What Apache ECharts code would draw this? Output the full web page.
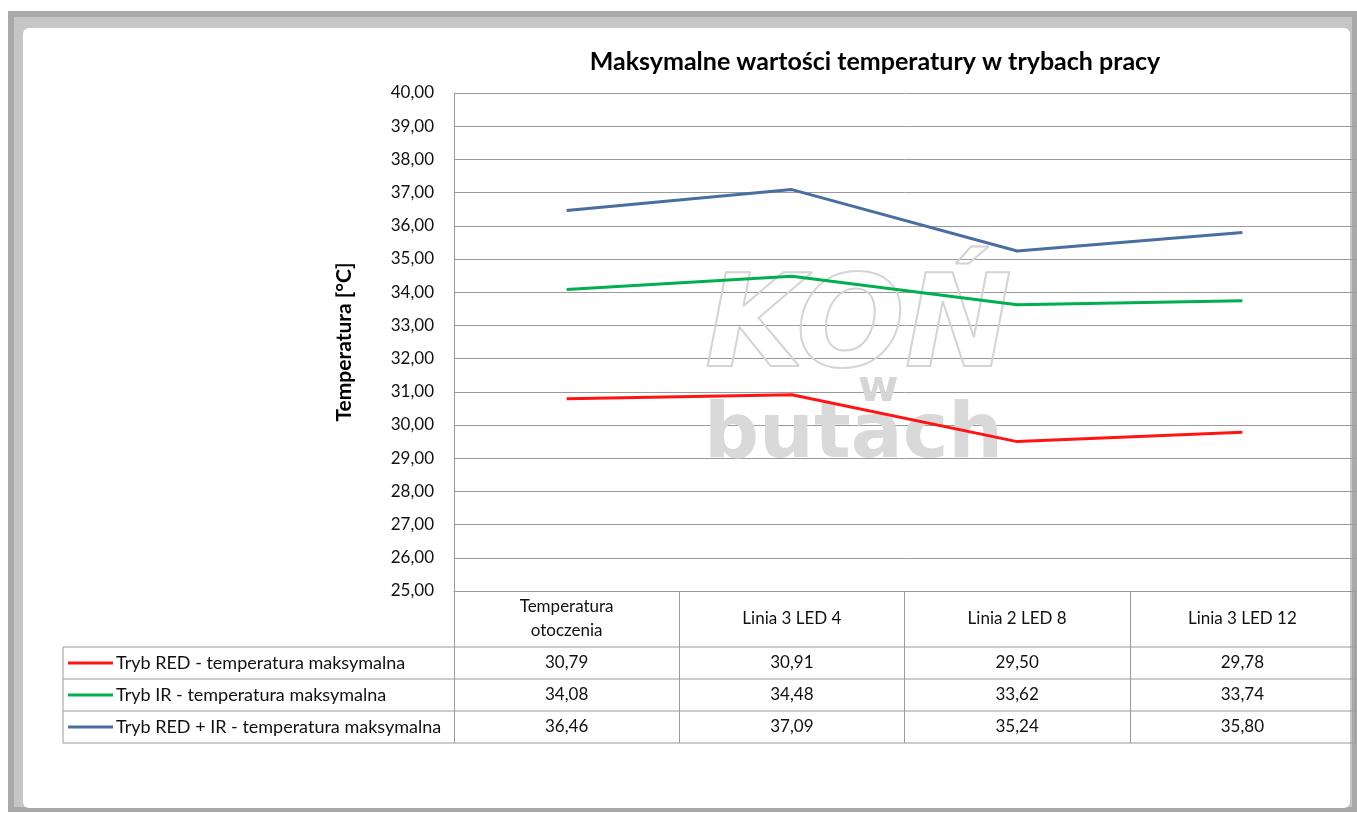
<!DOCTYPE html>
<html>
<head>
<meta charset="utf-8">
<script src="https://cdn.jsdelivr.net/npm/echarts@6/dist/echarts.min.js"></script>
<style>
  html, body { margin: 0; padding: 0; background: #ffffff; }
  #chart { width: 1357px; height: 814px; }
</style>
</head>
<body>
<div id="chart"></div>
<script>
// Data
const categories = ['Temperatura\notoczenia', 'Linia 3 LED 4', 'Linia 2 LED 8', 'Linia 3 LED 12'];
const seriesNames = [
  'Tryb RED - temperatura maksymalna',
  'Tryb IR - temperatura maksymalna',
  'Tryb RED + IR - temperatura maksymalna'
];
const redValues = [30.79, 30.91, 29.50, 29.78];
const irValues = [34.08, 34.48, 33.62, 33.74];
const redIrValues = [36.46, 37.09, 35.24, 35.80];
const yMin = 25, yMax = 40, yStep = 1;

const colors = ['#ff1414', '#00b050', '#4a6ea0'];
const font = 'Lato, "Open Sans", sans-serif';
const lineGray = '#9a9a9a';
const textColor = '#111';

// Layout (px)
const plotLeft = 454, plotRight = 1355, plotTop = 93, plotBottom = 591;
const headerH = 56, rowH = 32, tableLeft = 63;

const chart = echarts.init(document.getElementById('chart'));
const allValues = [redValues, irValues, redIrValues];
const fmt = v => v.toFixed(2).replace('.', ',');

const option = {
  animation: false,
  title: {
    text: 'Maksymalne wartości temperatury w trybach pracy',
    left: 870, top: 44, textAlign: 'center',
    textStyle: { fontFamily: font, fontSize: 25, fontWeight: 'bold', color: '#000' }
  },
  grid: {
    left: plotLeft, right: 1357 - plotRight, top: plotTop, bottom: 814 - plotBottom
  },
  xAxis: {
    type: 'category',
    data: categories,
    boundaryGap: true,
    axisLine: { show: true, lineStyle: { color: lineGray, width: 1 } },
    axisTick: { show: true, length: headerH + 3 * rowH, lineStyle: { color: lineGray, width: 1 } },
    axisLabel: {
      interval: 0, margin: headerH / 2, verticalAlign: 'middle',
      fontFamily: font, fontSize: 17, color: textColor, lineHeight: 24, align: 'center'
    }
  },
  yAxis: {
    type: 'value',
    min: yMin, max: yMax, interval: yStep,
    name: 'Temperatura [°C]',
    nameLocation: 'middle',
    nameGap: 99,
    nameTextStyle: { fontFamily: font, fontSize: 21, fontWeight: 'bold', color: '#000' },
    axisLine: { show: true, lineStyle: { color: lineGray, width: 1 } },
    axisTick: { show: false },
    axisLabel: { fontFamily: font, fontSize: 17, color: textColor, margin: 20, formatter: v => fmt(v) },
    splitLine: { show: true, lineStyle: { color: lineGray, width: 1 } }
  },
  series: allValues.map((vals, i) => ({
    name: seriesNames[i],
    type: 'line',
    data: vals,
    symbol: 'none',
    z: 5,
    lineStyle: { color: colors[i], width: 3 }
  }))
};

chart.setOption(option);

// Watermark, data table and frame drawn with graphic elements positioned from the axes
const graphics = [];

// window-like frame
graphics.push({ type: 'rect', z: -10, silent: true,
  shape: { x: 8, y: 11, width: 1349, height: 801 }, style: { fill: '#a9a9a9' } });
graphics.push({ type: 'rect', z: -9, silent: true,
  shape: { x: 14, y: 17, width: 1338, height: 790 }, style: { fill: '#c6c6c6' } });
graphics.push({ type: 'rect', z: -8, silent: true,
  shape: { x: 23, y: 28, width: 1327, height: 780, r: 6 }, style: { fill: '#ffffff' } });

// watermark
graphics.push({ type: 'text', z: 1, silent: true, left: 704, top: 268,
  style: { text: 'KOŃ', fontFamily: 'DejaVu Sans', fontSize: 128, fontWeight: 'bold', fontStyle: 'italic',
    fill: 'rgba(255,255,255,0)', stroke: '#d4d4d4', lineWidth: 2 } });
graphics.push({ type: 'text', z: 1, silent: true, left: 858, top: 368,
  style: { text: 'w', fontFamily: 'DejaVu Sans', fontSize: 44, fontWeight: 'bold', fill: '#d6d6d6' } });
graphics.push({ type: 'text', z: 1, silent: true, left: 704, top: 398,
  style: { text: 'butach', fontFamily: 'DejaVu Sans', fontSize: 77, fontWeight: 'bold', fill: '#d9d9d9' } });

// table horizontal lines
const rowTops = [0, 1, 2, 3].map(k => plotBottom + headerH + k * rowH);
rowTops.forEach(y => {
  graphics.push({ type: 'line', silent: true, z: 3,
    shape: { x1: tableLeft, y1: y, x2: plotRight, y2: y },
    style: { stroke: lineGray, lineWidth: 1 } });
});
graphics.push({ type: 'line', silent: true, z: 3,
  shape: { x1: tableLeft, y1: rowTops[0], x2: tableLeft, y2: rowTops[3] },
  style: { stroke: lineGray, lineWidth: 1 } });

// legend keys + values
allValues.forEach((vals, i) => {
  const cy = rowTops[i] + rowH / 2;
  graphics.push({ type: 'line', silent: true, z: 4,
    shape: { x1: 68, y1: cy, x2: 113, y2: cy },
    style: { stroke: colors[i], lineWidth: 3 } });
  graphics.push({ type: 'text', silent: true, z: 4, x: 116, y: cy,
    style: { text: seriesNames[i], fontFamily: font, fontSize: 18, fill: textColor,
      verticalAlign: 'middle', align: 'left' } });
  vals.forEach((v, j) => {
    const cx = chart.convertToPixel({ xAxisIndex: 0 }, j);
    graphics.push({ type: 'text', silent: true, z: 4, x: cx, y: cy,
      style: { text: fmt(v), fontFamily: font, fontSize: 17, fill: textColor,
        align: 'center', verticalAlign: 'middle' } });
  });
});

chart.setOption({ graphic: graphics });
</script>
</body>
</html>
